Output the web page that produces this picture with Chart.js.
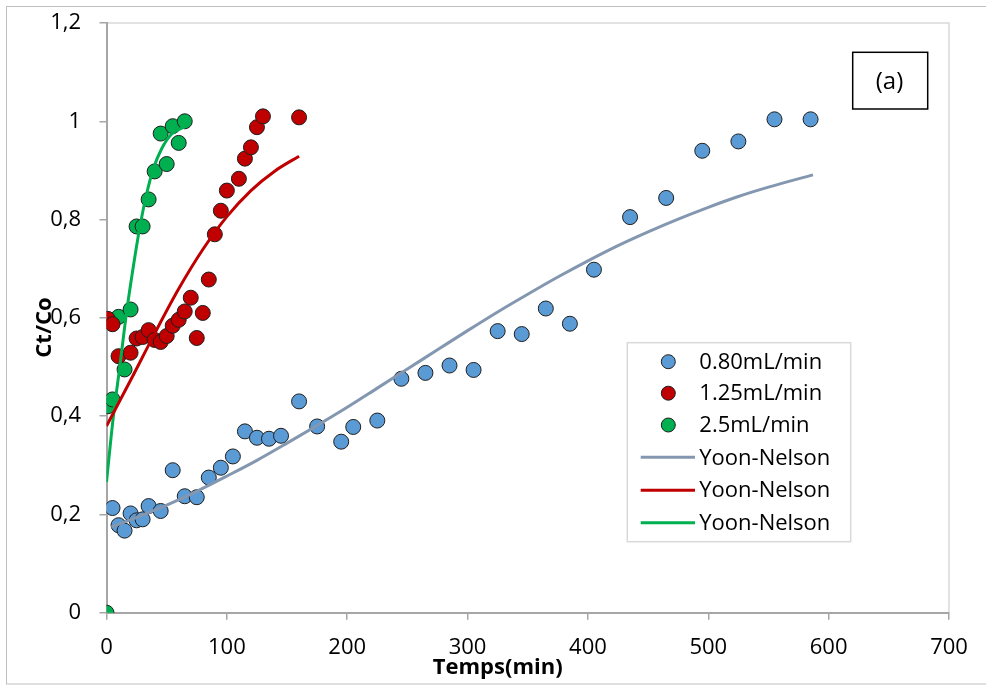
<!DOCTYPE html>
<html>
<head>
<meta charset="utf-8">
<script src="https://cdn.jsdelivr.net/npm/chart.js@4.4.1/dist/chart.umd.min.js"></script>
<style>
html,body{margin:0;padding:0;background:#fff;}
#wrap{width:986px;height:686px;position:relative;}
</style>
</head>
<body>
<div id="wrap"><canvas id="c"></canvas></div>
<script>
// ---- data ----
const xTitle = "Temps(min)";
const yTitle = "Ct/Co";
const panelLabel = "(a)";
const xTickValues = [0, 100, 200, 300, 400, 500, 600, 700];
const yTickValues = [0, 0.2, 0.4, 0.6, 0.8, 1, 1.2];

const seriesLabels = ["0.80mL/min", "1.25mL/min", "2.5mL/min", "Yoon-Nelson", "Yoon-Nelson", "Yoon-Nelson"];

const blueX = [5,10,15,20,25,30,35,45,55,65,75,85,95,105,115,125,135,145,160,175,195,205,225,245,265,285,305,325,345,365,385,405,435,465,495,525,555,585];
const blueY = [0.213,0.178,0.167,0.202,0.188,0.19,0.217,0.207,0.29,0.237,0.235,0.275,0.295,0.318,0.369,0.356,0.354,0.36,0.43,0.379,0.348,0.378,0.391,0.476,0.488,0.503,0.494,0.573,0.567,0.619,0.588,0.698,0.805,0.844,0.94,0.959,1.004,1.004];

const redX = [1,5,10,20,25,30,35,40,45,50,55,60,65,70,75,80,85,90,95,100,110,115,120,125,130,160];
const redY = [0.598,0.587,0.522,0.529,0.558,0.561,0.575,0.555,0.551,0.563,0.584,0.596,0.613,0.641,0.559,0.61,0.678,0.77,0.818,0.859,0.883,0.924,0.947,0.988,1.01,1.008];

const greenX = [0,1,5,10,15,20,25,30,35,40,45,50,55,60,65];
const greenY = [0,0.42,0.434,0.602,0.495,0.617,0.786,0.786,0.841,0.898,0.975,0.913,0.99,0.956,1.0];

const blueFitX = [4,25,50,75,100,125,150,175,200,225,250,275,300,325,350,375,400,425,450,475,500,525,550,587];
const blueFitY = [0.174,0.194,0.219,0.247,0.278,0.31,0.345,0.381,0.418,0.457,0.496,0.535,0.574,0.612,0.648,0.683,0.716,0.747,0.775,0.801,0.825,0.847,0.866,0.891];

const redFitX = [0,20,40,60,80,100,120,140,160];
const redFitY = [0.38,0.473,0.568,0.659,0.739,0.806,0.859,0.899,0.929];

const greenFitX = [0,5.5,11,16.7,22.2,27.7,33.3,38.9,45.8,54.2,66];
const greenFitY = [0.266,0.395,0.5,0.612,0.703,0.785,0.852,0.903,0.944,0.974,0.99];

// ---- build ----
const pts = (xs, ys) => xs.map((x, i) => ({x: x, y: ys[i]}));
const FONT = "'Open Sans', sans-serif";

function pointSet(label, xs, ys, color) {
  return {label, data: pts(xs, ys), showLine: false, pointRadius: 7.5, pointHoverRadius: 7.5,
    pointBackgroundColor: color, pointBorderColor: '#1f1f1f', pointBorderWidth: 1,
    backgroundColor: color, borderColor: '#1f1f1f', order: 1};
}
function lineSet(label, xs, ys, color) {
  return {label, data: pts(xs, ys), showLine: true, pointRadius: 0, pointHoverRadius: 0,
    borderColor: color, backgroundColor: color, borderWidth: 3, cubicInterpolationMode: 'monotone',
    fill: false, order: 0};
}

const datasets = [
  pointSet(seriesLabels[0], blueX, blueY, '#5b9bd5'),
  pointSet(seriesLabels[1], redX, redY, '#c00000'),
  pointSet(seriesLabels[2], greenX, greenY, '#00b050'),
  lineSet(seriesLabels[3], blueFitX, blueFitY, '#8497b0'),
  lineSet(seriesLabels[4], redFitX, redFitY, '#c00000'),
  lineSet(seriesLabels[5], greenFitX, greenFitY, '#00b050')
];

const decor = {
  id: 'decor',
  beforeDraw(chart) {
    const ctx = chart.ctx, a = chart.chartArea;
    ctx.save();
    ctx.fillStyle = '#ffffff';
    ctx.fillRect(0, 0, chart.width, chart.height);
    ctx.strokeStyle = '#bfbfbf';
    ctx.lineWidth = 1;
    ctx.strokeRect(6.5, 6.5, 990, 677.5);
    ctx.strokeStyle = '#d9d9d9';
    ctx.lineWidth = 1.5;
    ctx.beginPath();
    ctx.moveTo(a.left, a.top);
    ctx.lineTo(a.right, a.top);
    ctx.lineTo(a.right, a.bottom);
    ctx.stroke();
    ctx.restore();
  },
  afterDraw(chart) {
    const ctx = chart.ctx;
    ctx.save();
    // axis titles
    ctx.fillStyle = '#000';
    ctx.font = "bold 22px " + FONT;
    ctx.textAlign = 'center';
    ctx.textBaseline = 'middle';
    ctx.fillText(xTitle, 497.7, 668);
    ctx.save();
    ctx.translate(45, 327.5);
    ctx.rotate(-Math.PI / 2);
    ctx.fillText(yTitle, 0, 0);
    ctx.restore();

    // panel label box
    ctx.strokeStyle = '#000';
    ctx.lineWidth = 1.5;
    ctx.strokeRect(852.7, 52.3, 75, 56.7);
    ctx.font = "24px " + FONT;
    ctx.fillText(panelLabel, 889.5, 82);

    // legend
    const lx = 627.3, ly = 342.7, lw = 223.4, lh = 199;
    ctx.fillStyle = '#fff';
    ctx.fillRect(lx, ly, lw, lh);
    ctx.strokeStyle = '#d9d9d9';
    ctx.lineWidth = 1.5;
    ctx.strokeRect(lx, ly, lw, lh);
    const rows = [361.7, 393.2, 425, 457.3, 490.2, 522.7];
    ctx.font = "22px " + FONT;
    ctx.textAlign = 'left';
    chart.data.datasets.forEach((ds, i) => {
      const y = rows[i];
      if (ds.showLine) {
        ctx.strokeStyle = ds.borderColor;
        ctx.lineWidth = 3;
        ctx.beginPath();
        ctx.moveTo(640.7, y);
        ctx.lineTo(695, y);
        ctx.stroke();
      } else {
        ctx.beginPath();
        ctx.arc(668.3, y, 7, 0, Math.PI * 2);
        ctx.fillStyle = ds.pointBackgroundColor;
        ctx.fill();
        ctx.strokeStyle = '#1f1f1f';
        ctx.lineWidth = 1;
        ctx.stroke();
      }
      ctx.fillStyle = '#000';
      ctx.fillText(ds.label, 699.3, y + 1);
    });
    ctx.restore();
  }
};

const fmt = v => Number(Number(v).toFixed(1)).toString().replace('.', ',');

new Chart(document.getElementById('c'), {
  type: 'scatter',
  data: {datasets},
  options: {
    responsive: true,
    maintainAspectRatio: false,
    animation: false,
    devicePixelRatio: 1,
    layout: {padding: {top: 23, right: 37, left: 0, bottom: 0}},
    plugins: {legend: {display: false}, tooltip: {enabled: false}},
    scales: {
      x: {
        type: 'linear', min: 0, max: 700,
        afterBuildTicks: s => { s.ticks = xTickValues.map(v => ({value: v})); },
        afterFit: s => { s.height = 73.3; s.paddingLeft = 0; s.paddingRight = 0; },
        ticks: {font: {family: FONT, size: 22}, color: '#000', padding: 15, maxRotation: 0, callback: v => String(v)},
        grid: {drawOnChartArea: false, tickLength: 7, color: '#a6a6a6', lineWidth: 1.5},
        border: {color: '#a6a6a6', width: 2}
      },
      y: {
        type: 'linear', min: 0, max: 1.2,
        afterBuildTicks: s => { s.ticks = yTickValues.map(v => ({value: v})); },
        afterFit: s => { s.width = 106.5; s.paddingTop = 0; s.paddingBottom = 0; },
        ticks: {font: {family: FONT, size: 22}, color: '#000', padding: 18.5, callback: v => fmt(v)},
        grid: {drawOnChartArea: false, tickLength: 7, color: '#a6a6a6', lineWidth: 1.5},
        border: {color: '#a6a6a6', width: 2}
      }
    }
  },
  plugins: [decor]
});
</script>
</body>
</html>
